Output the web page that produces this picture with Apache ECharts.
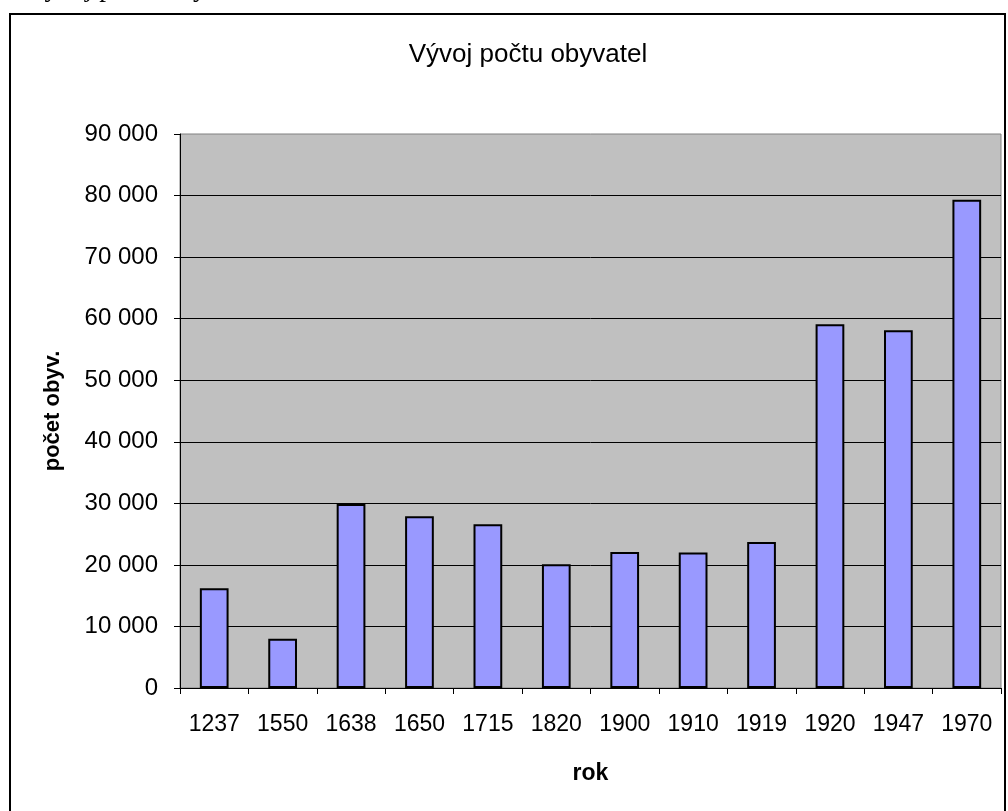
<!DOCTYPE html>
<html>
<head>
<meta charset="utf-8">
<script src="https://cdn.jsdelivr.net/npm/echarts@6/dist/echarts.min.js"></script>
<style>
html,body{margin:0;padding:0;background:#fff;}
#c{width:1008px;height:811px;}
</style>
</head>
<body>
<div id="c"></div>
<script>
const categories = ['1237','1550','1638','1650','1715','1820','1900','1910','1919','1920','1947','1970'];
const population = [16200, 8000, 29900, 27900, 26600, 20100, 22100, 22000, 23700, 59100, 58100, 79300];
const titleText = 'Vývoj počtu obyvatel';
const xName = 'rok';
const yName = 'počet obyv.';

const chart = echarts.init(document.getElementById('c'), null, {renderer:'canvas'});
const fmt = v => String(v).replace(/\B(?=(\d{3})+(?!\d))/g, ' ');
chart.setOption({
  backgroundColor: '#ffffff',
  animation: false,
  title: {
    text: titleText,
    left: 523, top: 37, textAlign: 'center',
    textStyle: {fontFamily: 'Liberation Sans, Arial, sans-serif', fontSize: 26, fontWeight: 'normal', color: '#000'}
  },
  graphic: [
    {type:'rect', shape:{x:10, y:14, width:995, height:820}, style:{fill:'none', stroke:'#000', lineWidth:2}, silent:true, z:100},
    {type:'text', x:25, y:2, style:{text: titleText, fontFamily:'Liberation Serif, Times New Roman, serif', fontSize:27, fill:'#000', verticalAlign:'bottom', align:'left'}},
    {type:'text', x:53, y:411, rotation: Math.PI/2, style:{text: yName, fontFamily:'Liberation Sans, Arial, sans-serif', fontSize:22, fontWeight:'bold', fill:'#000', align:'center', verticalAlign:'middle'}}
  ],
  grid: {left:180, right:7, top:134, bottom:123, show:true, backgroundColor:'#C0C0C0', borderColor:'#808080', borderWidth:1},
  xAxis: {
    type:'category', data: categories,
    name: xName, nameLocation:'middle', nameGap: 74,
    nameTextStyle:{fontFamily:'Liberation Sans, Arial, sans-serif', fontSize:23, fontWeight:'bold', color:'#000'},
    axisLine:{show:true, lineStyle:{color:'#000', width:1}},
    axisTick:{show:true, alignWithLabel:false, length:6, lineStyle:{color:'#000'}},
    axisLabel:{margin:25, fontFamily:'Liberation Sans, Arial, sans-serif', fontSize:23, color:'#000', interval:0}
  },
  yAxis: {
    type:'value', min:0, max:90000, interval:10000,
    axisLine:{show:true, lineStyle:{color:'#000', width:1}},
    axisTick:{show:true, length:6, lineStyle:{color:'#000'}},
    axisLabel:{margin:22, fontFamily:'Liberation Sans, Arial, sans-serif', fontSize:24, color:'#000', formatter: fmt},
    splitLine:{show:true, showMaxLine:false, lineStyle:{color:'#000', width:1}}
  },
  series: [{
    type:'bar', data: population, barWidth:'42%',
    itemStyle:{color:'#9999FF', borderColor:'#000', borderWidth:2}
  }]
});
</script>
</body>
</html>
